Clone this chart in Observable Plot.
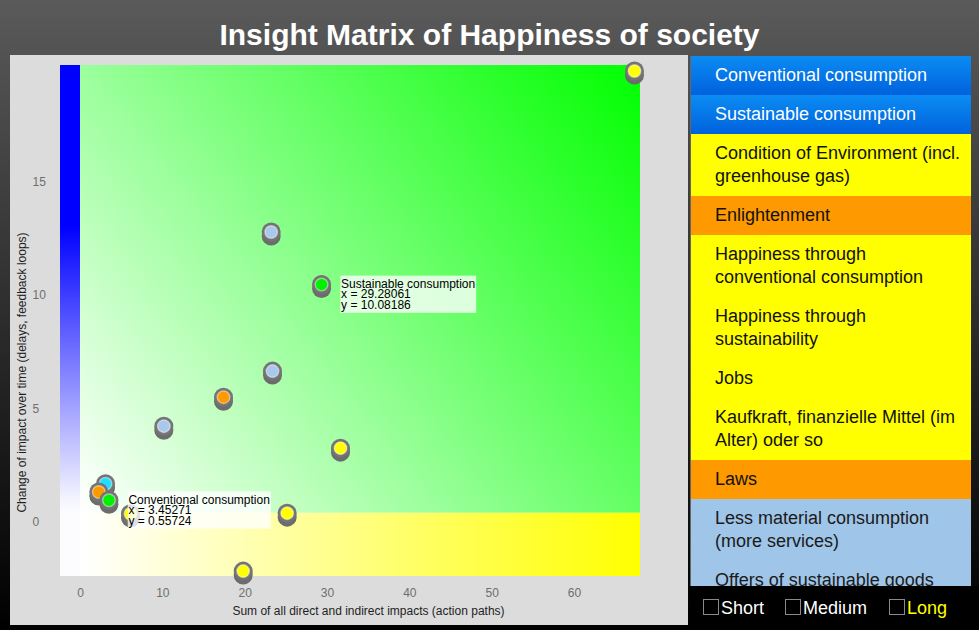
<!DOCTYPE html>
<html>
<head>
<meta charset="utf-8">
<script src="https://cdn.jsdelivr.net/npm/d3@7"></script>
<script src="https://cdn.jsdelivr.net/npm/@observablehq/plot@0.6"></script>
<style>
  html, body { margin: 0; padding: 0; }
  body {
    width: 979px; height: 630px; overflow: hidden; position: relative;
    background: linear-gradient(#5a5a5a, #000000);
    font-family: "Liberation Sans", Arial, Helvetica, sans-serif;
  }
  #title {
    position: absolute; left: 0; top: 14px; width: 979px;
    text-align: center; color: #fff; font-weight: bold;
    font-size: 30px; line-height: 42px;
  }
  #chart {
    position: absolute; left: 10px; top: 55px; width: 678px; height: 570px;
    background: #dcdcdc;
  }
  #chart svg { display: block; overflow: visible; }
  #list {
    position: absolute; left: 690px; top: 56px; width: 281px; height: 530px;
    overflow: hidden; box-sizing: border-box; border-left: 1px solid #666;
  }
  .item {
    padding: 8px 2px 8px 24px; font-size: 18px; line-height: 23px; color: #111;
  }
  .item.selected { background: linear-gradient(#0b8cf3, #0062dd); color: #fff; }
  .item.yellow { background: #ffff00; }
  .item.orange { background: #ff9900; }
  .item.lightblue { background: #9fc5e8; color: #1a1a1a; }
  #bottom {
    position: absolute; left: 690px; top: 586px; width: 289px; height: 44px; background: #000;
  }
  .cb { position: absolute; top: 13px; height: 18px; font-size: 18px; line-height: 18px; color: #fff; }
  .cb .box {
    display: inline-block; width: 14px; height: 14px; border: 1px solid #8a8a8a;
    vertical-align: top; margin-right: 2px; margin-top: 0px;
  }
</style>
</head>
<body>
<div id="title">Insight Matrix of Happiness of society</div>
<div id="chart"></div>
<div id="list"></div>
<div id="bottom"></div>
<script>
// ---------- data ----------
const impactSum    = [67.29, 23.16, 29.28061, 23.32, 17.37, 10.12, 31.58, 3.04, 2.22, 3.45271, 6.07, 25.10, 19.76];
const impactChange = [19.51, 12.40, 10.08186, 6.26, 5.11, 3.83, 2.86, 1.29, 0.92, 0.55724, -0.04, -0.01, -2.57];
const pointGroup   = ["yellow", "lightblue", "selected", "lightblue", "orange", "lightblue", "yellow",
                      "cyan", "orange", "selected", "yellow", "yellow", "yellow"];
const groupColor   = {yellow: "#ffff00", lightblue: "#a8c9ec", selected: "#00f000", orange: "#ff9900", cyan: "#22ddff"};

const tipName = ["Sustainable consumption", "Conventional consumption"];
const tipX    = [29.28061, 3.45271];
const tipY    = [10.08186, 0.55724];

const xTicks = [0, 10, 20, 30, 40, 50, 60];
const yTicks = [0, 5, 10, 15];
const xLabel = "Sum of all direct and indirect impacts (action paths)";
const yLabel = "Change of impact over time (delays, feedback loops)";

const xDomain = [-2.43, 68.02];
const yDomain = [-2.41, 20.15];
const threshold = 0.38;   // boundary between yellow and green zones

const listItems = ["Conventional consumption", "Sustainable consumption",
  "Condition of Environment (incl. greenhouse gas)", "Enlightenment",
  "Happiness through conventional consumption", "Happiness through sustainability",
  "Jobs", "Kaufkraft, finanzielle Mittel (im Alter) oder so", "Laws",
  "Less material consumption (more services)", "Offers of sustainable goods"];
const listKind = ["selected", "selected", "yellow", "orange", "yellow", "yellow", "yellow", "yellow",
  "orange", "lightblue", "lightblue"];

const horizons = ["Short", "Medium", "Long"];
const horizonColor = ["#ffffff", "#ffffff", "#ffff00"];

// ---------- chart ----------
const points = impactSum.map((x, i) => ({x, y: impactChange[i], color: groupColor[pointGroup[i]]}));
const tips = tipName.map((name, i) => ({name, x: tipX[i], y: tipY[i]}));

const defs = (index, scales) => {
  const X = typeof scales?.x === "function" ? scales.x : d3.scaleLinear(xDomain, [50, 630]);
  const Y = typeof scales?.y === "function" ? scales.y : d3.scaleLinear(yDomain, [521, 10]);
  const d = d3.create("svg:defs");
  const b = d.append("linearGradient").attr("id", "gBlue").attr("x1", 0).attr("y1", 0).attr("x2", 0).attr("y2", 1);
  b.append("stop").attr("offset", 0).attr("stop-color", "#0000ff");
  b.append("stop").attr("offset", 0.36).attr("stop-color", "#0000ff");
  b.append("stop").attr("offset", 0.97).attr("stop-color", "#f4f4ff");
  b.append("stop").attr("offset", 1).attr("stop-color", "#fcfcff");
  const g = d.append("linearGradient").attr("id", "gGreen").attr("gradientUnits", "userSpaceOnUse")
    .attr("x1", X(0)).attr("y1", Y(threshold)).attr("x2", X(xDomain[1])).attr("y2", Y(yDomain[1]));
  g.append("stop").attr("offset", 0).attr("stop-color", "#ffffff");
  g.append("stop").attr("offset", 1).attr("stop-color", "#00ff00");
  const y = d.append("linearGradient").attr("id", "gYellow").attr("x1", 0).attr("y1", 0).attr("x2", 1).attr("y2", 0);
  y.append("stop").attr("offset", 0).attr("stop-color", "#ffffff");
  y.append("stop").attr("offset", 1).attr("stop-color", "#ffff00");
  return d.node();
};

const markerMarks = points.flatMap(p => [
  Plot.dot([p], {x: "x", y: "y", r: 9.5, dy: -5, fill: "#6c6c6c"}),
  Plot.dot([p], {x: "x", y: "y", r: 9.5, dy: -9, fill: "#747474"}),
  Plot.dot([p], {x: "x", y: "y", r: 6.3, dy: -9, fill: "color", stroke: "#ffffff", strokeOpacity: 0.45, strokeWidth: 1.4})
]);

const chart = Plot.plot({
  width: 678, height: 570,
  marginLeft: 50, marginRight: 48, marginTop: 10, marginBottom: 49,
  x: {domain: xDomain, axis: null},
  y: {domain: yDomain, axis: null},
  style: {fontFamily: "'Liberation Sans', Arial, Helvetica, sans-serif", fontSize: "12px", background: "transparent", overflow: "visible"},
  marks: [
    defs,
    Plot.rect([{}], {x1: () => xDomain[0], x2: () => xDomain[1], y1: () => yDomain[0], y2: () => yDomain[1], fill: "#fcfcff"}),
    Plot.rect([{}], {x1: () => xDomain[0], x2: () => 0, y1: () => threshold, y2: () => yDomain[1], fill: "url(#gBlue)"}),
    Plot.rect([{}], {x1: () => 0, x2: () => xDomain[1], y1: () => threshold, y2: () => yDomain[1], fill: "url(#gGreen)"}),
    Plot.rect([{}], {x1: () => 0, x2: () => xDomain[1], y1: () => yDomain[0], y2: () => threshold, fill: "url(#gYellow)"}),
    Plot.text(xTicks, {x: d => d, text: d => String(d), frameAnchor: "bottom", lineAnchor: "middle", dy: 17, fill: "#6e6e6e", fontSize: 12}),
    Plot.text(yTicks, {y: d => d, text: d => String(d), frameAnchor: "left", dx: -28, textAnchor: "start", fill: "#6e6e6e", fontSize: 12}),
    Plot.text([xLabel], {text: d => d, frameAnchor: "bottom", lineAnchor: "middle", textAnchor: "middle", dx: 18, dy: 35, fill: "#1e1e1e", fontSize: 12}),
    Plot.text([yLabel], {text: d => d, frameAnchor: "left", textAnchor: "middle", lineAnchor: "middle", rotate: -90, dx: -38, dy: 51.5, fill: "#1e1e1e", fontSize: 12}),
    ...markerMarks,
    Plot.text(tips, {
      x: "x", y: "y",
      text: d => `${d.name}\nx = ${d.x.toFixed(5)}\ny = ${d.y.toFixed(5)}`,
      dx: 19.5, dy: -13, textAnchor: "start", lineAnchor: "top", lineHeight: 0.87,
      fontSize: 12, fill: "#000"
    })
  ]
});
document.getElementById("chart").append(chart);

// tooltip background boxes (semi-transparent white) behind the tip texts
Array.from(chart.querySelectorAll("text"))
  .filter(t => t.textContent.includes("x = "))
  .forEach(t => {
    const bb = t.getBBox();
    const r = document.createElementNS("http://www.w3.org/2000/svg", "rect");
    r.setAttribute("x", bb.x - 0.7);
    r.setAttribute("y", bb.y - 1.3);
    r.setAttribute("width", bb.width + 1.7);
    r.setAttribute("height", bb.height + 2.3);
    r.setAttribute("fill", "#ffffff");
    r.setAttribute("fill-opacity", 0.78);
    const tr = t.getAttribute("transform");
    if (tr) r.setAttribute("transform", tr);
    t.parentNode.insertBefore(r, t);
  });

// ---------- right-hand list ----------
const list = d3.select("#list");
list.selectAll("div.item").data(listItems).join("div")
  .attr("class", (d, i) => "item " + listKind[i])
  .text(d => d);

// ---------- horizon checkboxes ----------
const cbLeft = [13, 95, 199];
const bottom = d3.select("#bottom");
horizons.forEach((h, i) => {
  const c = bottom.append("div").attr("class", "cb").style("left", cbLeft[i] + "px").style("color", horizonColor[i]);
  c.append("span").attr("class", "box");
  c.append("span").text(h);
});
</script>
</body>
</html>
